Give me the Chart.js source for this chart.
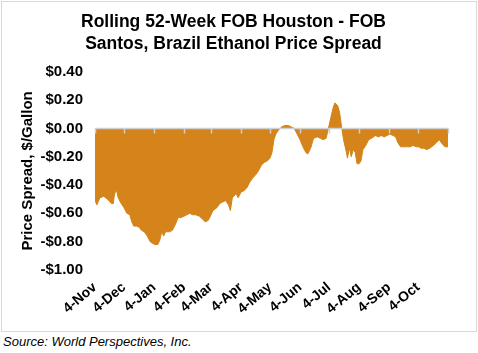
<!DOCTYPE html>
<html>
<head>
<meta charset="utf-8">
<script src="https://cdn.jsdelivr.net/npm/chart.js@4/dist/chart.umd.min.js"></script>
<style>
  body { margin: 0; background: #fff; font-family: Arial, "Liberation Sans", sans-serif; }
  #box { position: absolute; left: 1px; top: 1px; width: 476px; height: 331px; border: 1px solid #d9d9d9; box-sizing: border-box; }
  #box canvas { display: block; }
  #source { position: absolute; left: 3px; top: 334px; font-size: 13px; line-height: 16px; font-style: italic; color: #000; }
</style>
</head>
<body>
<div id="box"><canvas id="spreadChart" width="474" height="329"></canvas></div>
<div id="source">Source: World Perspectives, Inc.</div>
<script>
// days since 4-Nov, spread in $/gallon (FOB Houston minus FOB Santos)
const dayOffsets = [0, 2, 5, 9, 13, 17, 19, 20, 22, 24, 27, 30, 33, 36, 38, 40, 43, 46, 48, 51,
  54, 57, 59, 62, 65, 67, 69, 71, 73, 77, 80, 83, 86, 89, 92, 95, 98, 101, 104, 108,
  111, 114, 117, 120, 122, 126, 129, 132, 135, 138, 140, 142, 146, 148, 151, 154, 157, 160, 163, 166,
  169, 172, 175, 178, 181, 183, 185, 187, 190, 193, 196, 200, 203, 206, 209, 212, 215, 218, 220, 223,
  226, 230, 233, 236, 239, 241, 243, 246, 248, 251, 253, 255, 257, 260, 261, 263, 265, 267, 269, 271,
  273, 275, 277, 280, 283, 286, 290, 293, 296, 299, 302, 305, 308, 311, 313, 316, 320, 323, 326, 329,
  332, 335, 337, 340, 343, 346, 350, 353, 356, 359, 362, 365];
const spread = [-0.51, -0.54, -0.49, -0.48, -0.50, -0.53, -0.53, -0.47, -0.43, -0.49, -0.53, -0.56, -0.60, -0.61, -0.66, -0.69, -0.69, -0.70, -0.72, -0.73,
  -0.76, -0.80, -0.81, -0.82, -0.82, -0.79, -0.73, -0.76, -0.73, -0.73, -0.72, -0.68, -0.63, -0.63, -0.62, -0.61, -0.60, -0.61, -0.61, -0.62,
  -0.64, -0.66, -0.65, -0.61, -0.58, -0.56, -0.53, -0.52, -0.51, -0.54, -0.58, -0.49, -0.46, -0.49, -0.45, -0.44, -0.42, -0.38, -0.35, -0.33,
  -0.30, -0.26, -0.24, -0.23, -0.21, -0.17, -0.08, -0.04, -0.01, 0.01, 0.02, 0.02, 0.01, 0.00, -0.04, -0.08, -0.13, -0.17, -0.18, -0.14,
  -0.07, -0.06, -0.07, -0.08, -0.07, -0.01, 0.05, 0.14, 0.18, 0.16, 0.11, 0.01, -0.08, -0.17, -0.21, -0.14, -0.20, -0.15, -0.17, -0.25,
  -0.25, -0.23, -0.15, -0.12, -0.08, -0.07, -0.05, -0.06, -0.05, -0.06, -0.05, -0.04, -0.05, -0.06, -0.10, -0.13, -0.13, -0.13, -0.13, -0.12,
  -0.13, -0.13, -0.14, -0.14, -0.15, -0.14, -0.12, -0.10, -0.08, -0.11, -0.13, -0.13];

const monthDays = [0, 30, 61, 92, 120, 151, 181, 212, 242, 273, 304, 334, 365];
const monthLabels = ["4-Nov", "4-Dec", "4-Jan", "4-Feb", "4-Mar", "4-Apr", "4-May", "4-Jun", "4-Jul", "4-Aug", "4-Sep", "4-Oct"];

const fillColor = "#D4841A";
const fontFamily = "Arial, 'Liberation Sans', sans-serif";

// zero line with small tick marks hanging under it
const zeroAxis = {
  id: "zeroAxis",
  afterDatasetsDraw(chart) {
    const { ctx, scales: { x, y }, chartArea } = chart;
    const y0 = y.getPixelForValue(0);
    ctx.save();
    ctx.strokeStyle = "#d0d0d0";
    ctx.lineWidth = 1.5;
    ctx.beginPath();
    ctx.moveTo(chartArea.left, y0);
    ctx.lineTo(chartArea.right, y0);
    monthDays.forEach(d => {
      const px = Math.round(x.getPixelForValue(d)) + 0.5;
      ctx.moveTo(px, y0);
      ctx.lineTo(px, y0 + 5);
    });
    ctx.stroke();
    ctx.restore();
  }
};

new Chart(document.getElementById("spreadChart"), {
  type: "line",
  data: {
    datasets: [{
      data: dayOffsets.map((d, i) => ({ x: d, y: spread[i] })),
      fill: "origin",
      backgroundColor: fillColor,
      borderColor: fillColor,
      borderWidth: 1,
      pointRadius: 0,
      tension: 0
    }]
  },
  options: {
    responsive: false,
    animation: false,
    layout: { padding: { left: 17, right: 28, top: 0, bottom: 0 } },
    plugins: {
      legend: { display: false },
      tooltip: { enabled: false },
      title: {
        display: true,
        text: ["Rolling 52-Week FOB Houston - FOB", "Santos, Brazil Ethanol Price Spread"],
        color: "#000",
        font: { family: fontFamily, size: 17.5, weight: "bold", lineHeight: 1.25 },
        padding: { top: 9, bottom: 17 }
      }
    },
    scales: {
      x: {
        type: "linear",
        min: 0,
        max: 365,
        afterBuildTicks: scale => { scale.ticks = monthDays.map(v => ({ value: v })); },
        afterFit: scale => { scale.height = 61; },
        grid: { display: false, drawTicks: false },
        border: { display: false },
        ticks: {
          autoSkip: false,
          maxRotation: 40,
          minRotation: 40,
          padding: 9,
          color: "#000",
          font: { family: fontFamily, size: 14, weight: "bold" },
          callback: (v, i) => monthLabels[i] || ""
        }
      },
      y: {
        min: -1,
        max: 0.4,
        afterFit: scale => { scale.width = 76; },
        grid: { display: false, drawTicks: false },
        border: { display: false },
        ticks: {
          stepSize: 0.2,
          padding: 12,
          color: "#000",
          font: { family: fontFamily, size: 15, weight: "bold" },
          callback: v => (v < -0.001 ? "-$" : "$") + Math.abs(v).toFixed(2)
        },
        title: {
          display: true,
          text: "Price Spread, $/Gallon",
          color: "#000",
          padding: 0,
          font: { family: fontFamily, size: 15, weight: "bold" }
        }
      }
    }
  },
  plugins: [zeroAxis]
});
</script>
</body>
</html>
